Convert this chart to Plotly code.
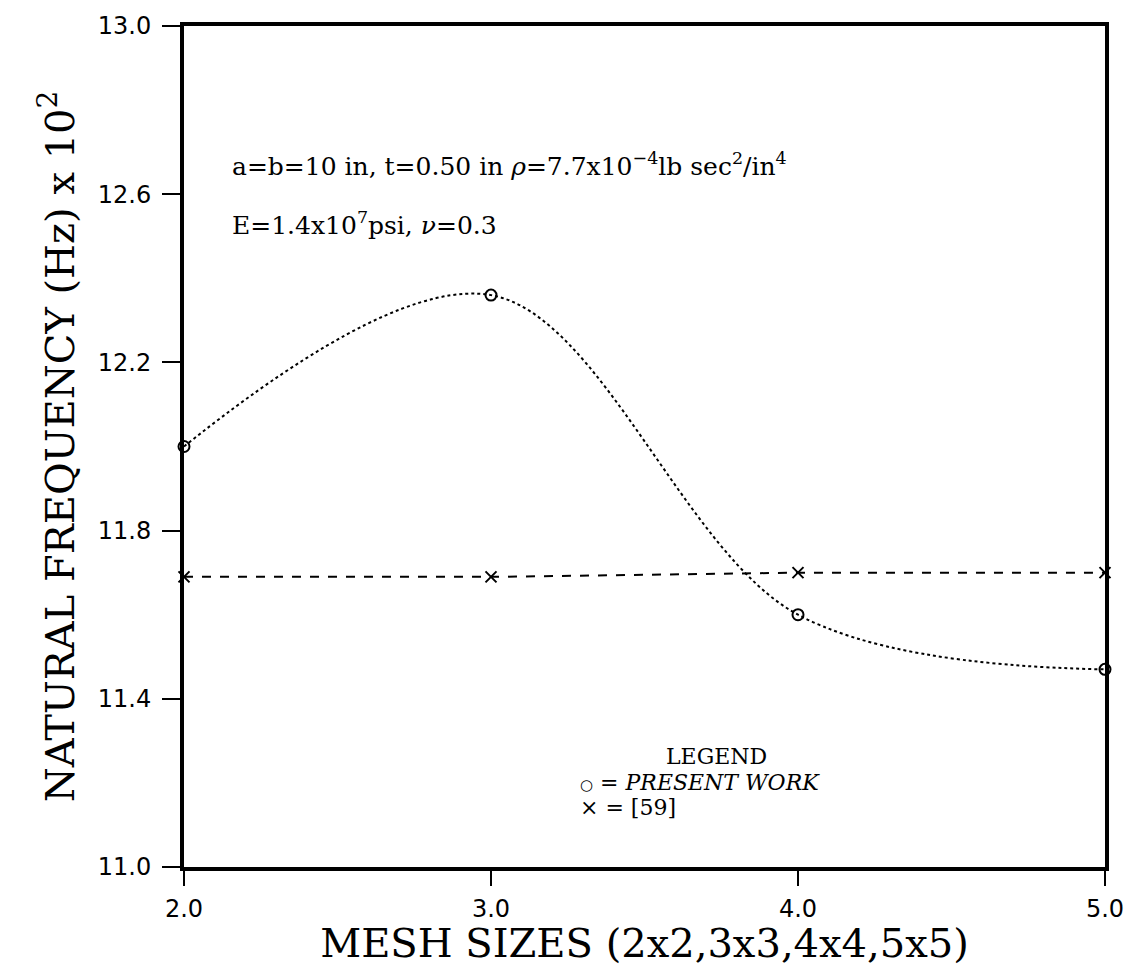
import plotly.graph_objects as go

# Mesh size index (2x2 .. 5x5) and natural frequencies (Hz x 10^2)
mesh = [2.0, 3.0, 4.0, 5.0]
present_work = [12.00, 12.36, 11.60, 11.47]
ref_59 = [11.69, 11.69, 11.70, 11.70]

x_ticks = [2.0, 3.0, 4.0, 5.0]
y_ticks = [11.0, 11.4, 11.8, 12.2, 12.6, 13.0]

serif = "DejaVu Serif, Liberation Serif, serif"
tickfont = dict(family="DejaVu Sans, sans-serif", size=24, color="black")

fig = go.Figure()

fig.add_trace(go.Scatter(
    x=mesh, y=ref_59, mode="lines+markers",
    line=dict(color="black", width=2, dash="dash"),
    marker=dict(symbol="x-thin-open", size=11, line=dict(color="black", width=2)),
    cliponaxis=False, showlegend=False,
))

fig.add_trace(go.Scatter(
    x=mesh, y=present_work, mode="lines+markers",
    line=dict(color="black", width=2, dash="dot", shape="spline", smoothing=1.0),
    marker=dict(symbol="circle-open", size=11, color="black", line=dict(color="black", width=2)),
    cliponaxis=False, showlegend=False,
))

fig.update_xaxes(
    range=[2.0, 5.0], tickvals=x_ticks, ticktext=[f"{v:.1f}" for v in x_ticks],
    showline=True, linecolor="black", linewidth=4, mirror=True,
    ticks="outside", ticklen=15, tickwidth=2, tickcolor="black",
    ticklabelstandoff=2,
    tickfont=tickfont, showgrid=False, zeroline=False,
    title=dict(text="MESH SIZES (2x2,3x3,4x4,5x5)",
               font=dict(family=serif, size=40, color="black"), standoff=2),
)
fig.update_yaxes(
    range=[11.0, 13.0], tickvals=y_ticks, ticktext=[f"{v:.1f}" for v in y_ticks],
    showline=True, linecolor="black", linewidth=4, mirror=True,
    ticks="outside", ticklen=18, tickwidth=2, tickcolor="black",
    ticklabelstandoff=6,
    tickfont=tickfont, showgrid=False, zeroline=False,
    title=dict(text="NATURAL FREQUENCY (Hz) x 10<sup>2</sup>",
               font=dict(family=serif, size=40, color="black"), standoff=12),
)

annot_font = dict(family=serif, size=25, color="black")
fig.add_annotation(
    x=0.05, y=0.835, xref="paper", yref="paper", xanchor="left", yanchor="middle",
    text="a=b=10 in, t=0.50 in <i>ρ</i>=7.7x10<sup>−4</sup>lb sec<sup>2</sup>/in<sup>4</sup>",
    showarrow=False, font=annot_font,
)
fig.add_annotation(
    x=0.05, y=0.765, xref="paper", yref="paper", xanchor="left", yanchor="middle",
    text="E=1.4x10<sup>7</sup>psi, <i>ν</i>=0.3",
    showarrow=False, font=annot_font,
)

# Legend block
leg_font = dict(family=serif, size=22, color="black")
fig.add_annotation(x=0.578, y=0.131, xref="paper", yref="paper", xanchor="center",
                   yanchor="middle", text="LEGEND", showarrow=False, font=leg_font)
fig.add_annotation(x=0.428, y=0.100, xref="paper", yref="paper", xanchor="left",
                   yanchor="middle",
                   text="<span style='font-size:15px'>○</span> = <i>PRESENT WORK</i>",
                   showarrow=False, font=leg_font)
fig.add_annotation(x=0.428, y=0.071, xref="paper", yref="paper", xanchor="left",
                   yanchor="middle", text="× = [59]", showarrow=False, font=leg_font)

fig.update_layout(
    width=1143, height=966,
    margin=dict(l=184, r=38, t=19, b=99),
    paper_bgcolor="white", plot_bgcolor="white",
)

fig.write_html("out.html")
